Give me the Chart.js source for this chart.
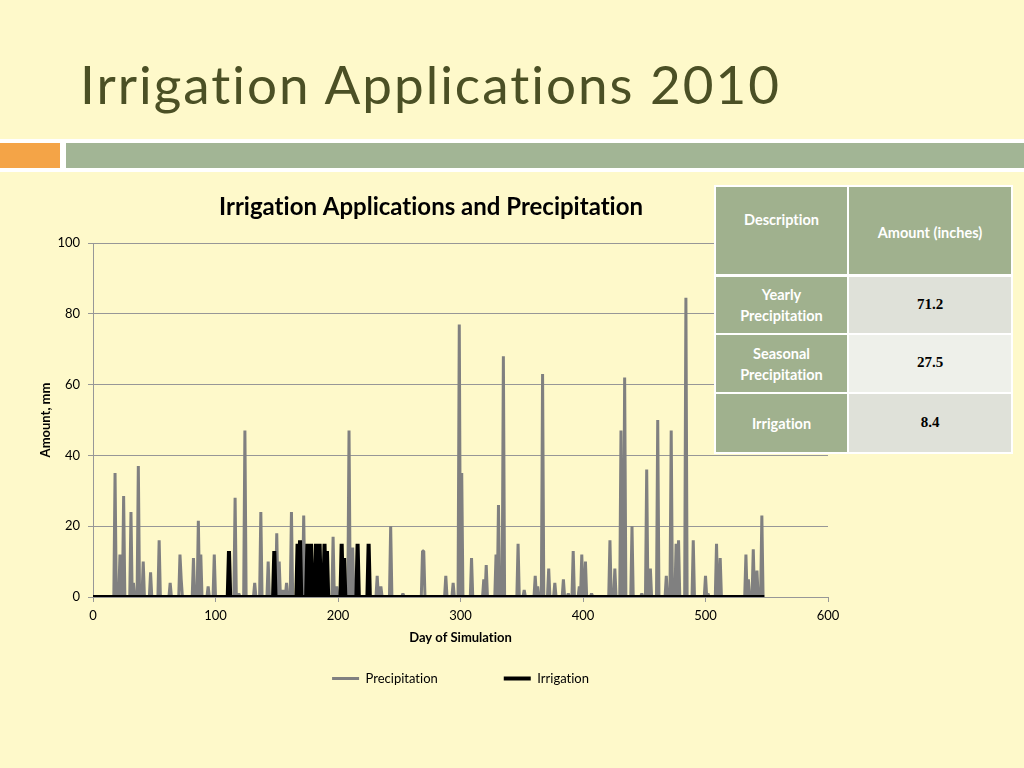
<!DOCTYPE html>
<html>
<head>
<meta charset="utf-8">
<title>Irrigation Applications 2010</title>
<script src="https://cdn.jsdelivr.net/npm/chart.js@4.4.1/dist/chart.umd.min.js"></script>
<style>
  html, body { margin: 0; padding: 0; }
  body {
    width: 1024px; height: 768px; position: relative; overflow: hidden;
    background: #fef9ca; font-family: Lato, "Open Sans", sans-serif;
    font-variant-ligatures: none;
  }
  #slideTitle {
    position: absolute; left: 80px; top: 57px; margin: 0;
    font-family: Lato, sans-serif; font-weight: 400; font-size: 53px; line-height: 53px;
    letter-spacing: 2px; color: #4b5025; white-space: nowrap;
  }
  #band   { position: absolute; left: 0; top: 139px; width: 1024px; height: 33px; background: #ffffff; }
  #orange { position: absolute; left: 0; top: 143px; width: 60px; height: 25px; background: #f4a447; }
  #green  { position: absolute; left: 66px; top: 143px; width: 958px; height: 25px; background: #a2b595; }
  #chartBox { position: absolute; left: 0; top: 180px; width: 856px; height: 565px; }

  #summary { position: absolute; left: 714px; top: 185px; width: 299px; height: 269px; background: #ffffff; }
  #summary div {
    position: absolute; box-sizing: border-box; display: flex; align-items: center; justify-content: center;
    text-align: center;
  }
  #summary .head, #summary .label {
    background: #a0b18e; color: #ffffff; font-weight: 700; font-size: 14.5px; line-height: 21px;
  }
  #summary .value {
    font-family: "Liberation Serif", "Times New Roman", serif; font-weight: 700; font-size: 15px;
    color: #000000; padding-bottom: 2px;
  }
  #summary .c1 { left: 2px; width: 131px; }
  #summary .c2 { left: 135px; width: 162px; }
  #summary .r0 { top: 2px; height: 87px; }
  #summary .r1 { top: 92px; height: 56px; }
  #summary .r2 { top: 150px; height: 57px; }
  #summary .r3 { top: 209px; height: 58px; }
  #summary .desc { padding-bottom: 22px; }
  #summary .amt { padding-top: 3px; }
  #summary .light { background: #dfe1d9; }
  #summary .lighter { background: #eef0ea; }
</style>
</head>
<body>
<h1 id="slideTitle">Irrigation Applications 2010</h1>
<div id="band"></div>
<div id="orange"></div>
<div id="green"></div>

<div id="chartBox"><canvas id="irrigationChart"></canvas></div>

<div id="summary">
  <div class="head c1 r0 desc">Description</div>
  <div class="head c2 r0 amt">Amount (inches)</div>
  <div class="label c1 r1">Yearly<br>Precipitation</div>
  <div class="value c2 r1 light">71.2</div>
  <div class="label c1 r2">Seasonal<br>Precipitation</div>
  <div class="value c2 r2 lighter">27.5</div>
  <div class="label c1 r3">Irrigation</div>
  <div class="value c2 r3 light">8.4</div>
</div>

<script>
// rain events (day of simulation, mm)
const precipDays = [18, 22, 25, 31, 33, 37, 41, 47, 54, 63, 71, 72, 82, 86, 88, 94, 99,
  116, 119, 124, 132, 137, 143, 150, 152, 155, 158, 162, 172, 196, 199, 209, 212,
  232, 235, 243, 253, 269, 270, 288, 294, 299, 301, 309, 319, 321, 329, 331, 335,
  347, 352, 361, 363, 367, 372, 377, 384, 388, 392, 397, 399, 402, 407,
  422, 426, 431, 434, 440, 448, 452, 455, 461, 468, 472, 476, 478, 484, 490,
  500, 502, 509, 512, 533, 535, 539, 542, 546];
const precipMm = [35, 12, 28.5, 24, 4, 37, 10, 7, 16, 4, 12, 5, 11, 21.5, 12, 3, 12,
  28, 1, 47, 4, 24, 10, 18, 10, 2, 4, 24, 23, 17, 3, 47, 14,
  6, 3, 20, 1, 13, 13, 6, 4, 77, 35, 11, 5, 9, 12, 26, 68,
  15, 2, 6, 3, 63, 8, 4, 5, 1, 13, 3, 12, 10, 1,
  16, 8, 47, 62, 20, 1, 36, 8, 50, 6, 47, 15, 16, 84.5, 16,
  6, 1, 15, 11, 12, 5, 13.5, 7.5, 23];

// irrigation applications (day of simulation, mm)
const irrigDays = [111, 148, 167, 169, 175, 178, 182, 185, 189, 191, 203, 205, 216, 225];
const irrigMm   = [13, 13, 15, 16, 15, 15, 15, 15, 15, 13, 15, 11, 15, 15];

const lastDay = 548;
const xTicks = [0, 100, 200, 300, 400, 500, 600];
const yTicks = [0, 20, 40, 60, 80, 100];

// daily series: 0 mm on days with no event
function dailySeries(days, amounts) {
  const byDay = new Map(days.map((d, i) => [d, amounts[i]]));
  const pts = [];
  for (let d = 0; d <= lastDay; d++) {
    pts.push({ x: d, y: byDay.has(d) ? byDay.get(d) : 0 });
  }
  return pts;
}

// no "ti" ligatures in canvas text; also moves the legend up under the axis title
const chartTweaks = {
  id: 'chartTweaks',
  beforeLayout(chart) { chart.ctx.textRendering = 'optimizeSpeed'; },
  afterLayout(chart) {
    chart.legend.top -= 42;
    chart.legend.bottom -= 42;
  },
  beforeDraw(chart) { chart.ctx.textRendering = 'optimizeSpeed'; }
};

Chart.defaults.font.family = 'Lato, "Open Sans", sans-serif';
Chart.defaults.color = '#000';

const gridColor = '#979797';
const ctx = document.getElementById('irrigationChart').getContext('2d');

new Chart(ctx, {
  type: 'line',
  data: {
    datasets: [
      {
        label: 'Precipitation',
        data: dailySeries(precipDays, precipMm),
        borderColor: '#808080',
        backgroundColor: '#808080',
        borderWidth: 3,
        borderJoinStyle: 'bevel',
        pointRadius: 0,
        tension: 0,
        order: 2
      },
      {
        label: 'Irrigation',
        data: dailySeries(irrigDays, irrigMm),
        borderColor: '#000000',
        backgroundColor: '#000000',
        borderWidth: 4,
        borderJoinStyle: 'bevel',
        pointRadius: 0,
        tension: 0,
        order: 1
      }
    ]
  },
  plugins: [chartTweaks],
  options: {
    responsive: true,
    maintainAspectRatio: false,
    animation: false,
    layout: { padding: { left: 34, right: 28, top: 0, bottom: 8 } },
    scales: {
      x: {
        type: 'linear',
        min: 0,
        max: 600,
        afterBuildTicks: s => { s.ticks = xTicks.map(v => ({ value: v })); },
        afterFit: s => { s.height = 51; },
        ticks: { padding: 6, font: { size: 13 }, color: '#000', maxRotation: 0 },
        grid: { drawOnChartArea: false, drawTicks: true, tickLength: 5, color: gridColor },
        border: { display: true, color: gridColor },
        title: {
          display: true,
          text: 'Day of Simulation',
          font: { size: 13, weight: 'bold' },
          padding: { top: 4, bottom: 2 }
        }
      },
      y: {
        min: 0,
        max: 100,
        afterBuildTicks: s => { s.ticks = yTicks.map(v => ({ value: v })); },
        afterFit: s => { s.width = 59; },
        ticks: { padding: 8, font: { size: 13 }, color: '#000' },
        grid: { color: gridColor, tickLength: 5 },
        border: { display: true, color: gridColor },
        title: {
          display: true,
          text: 'Amount, mm',
          font: { size: 13, weight: 'bold' }
        }
      }
    },
    plugins: {
      title: {
        display: true,
        text: 'Irrigation Applications and Precipitation',
        font: { size: 24, weight: 'bold' },
        color: '#000',
        padding: { top: 12.6, bottom: 21.6 }
      },
      legend: {
        position: 'bottom',
        fullSize: false,
        labels: {
          usePointStyle: true,
          pointStyle: 'line',
          pointStyleWidth: 27,
          padding: 66,
          font: { size: 13 },
          color: '#000',
          sort: (a, b) => a.datasetIndex - b.datasetIndex
        }
      },
      tooltip: { enabled: false }
    }
  }
});
</script>
</body>
</html>
